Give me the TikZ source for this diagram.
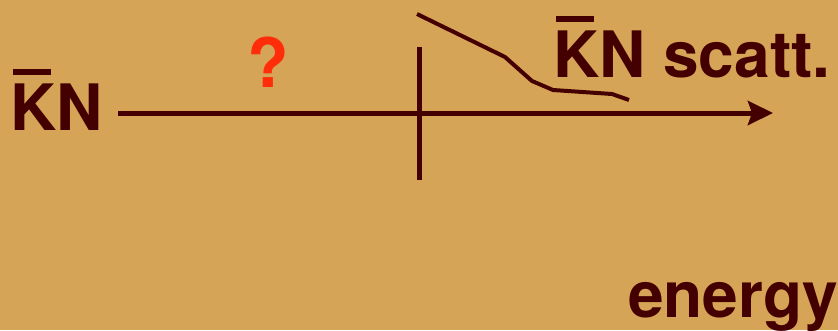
\documentclass[tikz,border=0pt]{standalone}
\usepackage{fontspec}
\setmainfont{TeX Gyre Heros}
\usetikzlibrary{arrows.meta}
\definecolor{bgtan}{RGB}{214,164,86}
\definecolor{maroon}{RGB}{68,0,0}
\definecolor{qred}{RGB}{255,45,10}
\newcommand{\barK}{\rlap{\hspace{0.04em}\raisebox{0.86em}{\rule{0.6em}{0.1em}}}K}
\begin{document}
\begin{tikzpicture}[x=1pt,y=-1pt,
  lbl/.style={inner sep=0pt, anchor=base west, text=maroon, font=\fontsize{64}{70}\selectfont\bfseries},
  axisline/.style={draw=maroon, line width=5pt},
  curveline/.style={draw=maroon, line width=4pt, line join=round}]
\fill[bgtan] (0,0) rectangle (838,330);
\useasboundingbox (0,0) rectangle (838,330);
% labels
\node[lbl] (kn) at (10,130) {\barK N};
\node[lbl] (knscatt) at (553,77) {\barK N scatt.};
\node[lbl] (energy) at (628,317) {energy};
\node[inner sep=0pt, anchor=base west, text=qred, font=\fontsize{68}{74}\selectfont\bfseries] (q) at (247,87) {?};
% axis
\coordinate (axstart) at (118,113);
\coordinate (axend) at (773,113);
\draw[axisline, -{Stealth[length=25pt,width=24pt,inset=4pt]}] (axstart) -- (axend);
% threshold marker
\coordinate (vtop) at (419,47);
\coordinate (vbot) at (419,180);
\draw[axisline] (vtop) -- (vbot);
% cross section curve
\coordinate (c1) at (417,14);
\coordinate (c2) at (505,57);
\coordinate (c3) at (532,81);
\coordinate (c4) at (553,90);
\coordinate (c5) at (612,94);
\coordinate (c6) at (629,100);
\draw[curveline] (c1) -- (c2) -- (c3) -- (c4) -- (c5) -- (c6);
\end{tikzpicture}
\end{document}
